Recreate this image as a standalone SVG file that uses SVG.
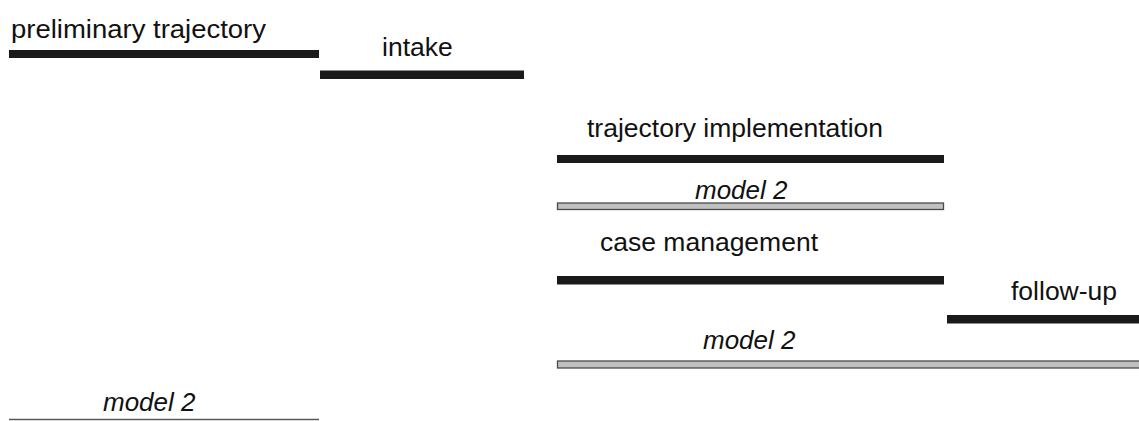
<svg xmlns="http://www.w3.org/2000/svg" width="1139" height="421" viewBox="0 0 1139 421">
<style>
  .lbl { font-family: "Liberation Sans", Arial, sans-serif; font-size: 26.5px; fill: #111; }
  .mdl { font-family: "Liberation Sans", Arial, sans-serif; font-size: 26px; font-style: italic; fill: #111; }
  .bar { fill: #1a1a1a; }
  .gbar { fill: #c0c0c0; stroke: #4a4a4a; stroke-width: 1.3; }
</style>
<rect width="1139" height="421" fill="#ffffff"/>
<g id="preliminary-trajectory">
  <text class="lbl" x="11" y="37.5" textLength="255" lengthAdjust="spacingAndGlyphs">preliminary trajectory</text>
  <rect class="bar" x="9" y="50" width="310" height="8"/>
</g>
<g id="intake">
  <text class="lbl" x="382" y="56">intake</text>
  <rect class="bar" x="320" y="70.5" width="204" height="8.5"/>
</g>
<g id="trajectory-implementation">
  <text class="lbl" x="587" y="137">trajectory implementation</text>
  <rect class="bar" x="557" y="155" width="387" height="8"/>
</g>
<g id="model2-a">
  <text class="mdl" x="695" y="199">model 2</text>
  <rect class="gbar" x="557.5" y="203" width="386" height="6.5"/>
</g>
<g id="case-management">
  <text class="lbl" x="600" y="251">case management</text>
  <rect class="bar" x="557" y="276" width="387" height="8.5"/>
</g>
<g id="follow-up">
  <text class="lbl" x="1011" y="300">follow-up</text>
  <rect class="bar" x="947" y="315" width="192" height="8.5"/>
</g>
<g id="model2-b">
  <text class="mdl" x="703" y="349">model 2</text>
  <rect class="gbar" x="557.5" y="361" width="585" height="7"/>
</g>
<g id="model2-c">
  <text class="mdl" x="103" y="411">model 2</text>
  <line x1="9" y1="419.5" x2="319" y2="419.5" stroke="#5a5a5a" stroke-width="1.6"/>
</g>
</svg>
